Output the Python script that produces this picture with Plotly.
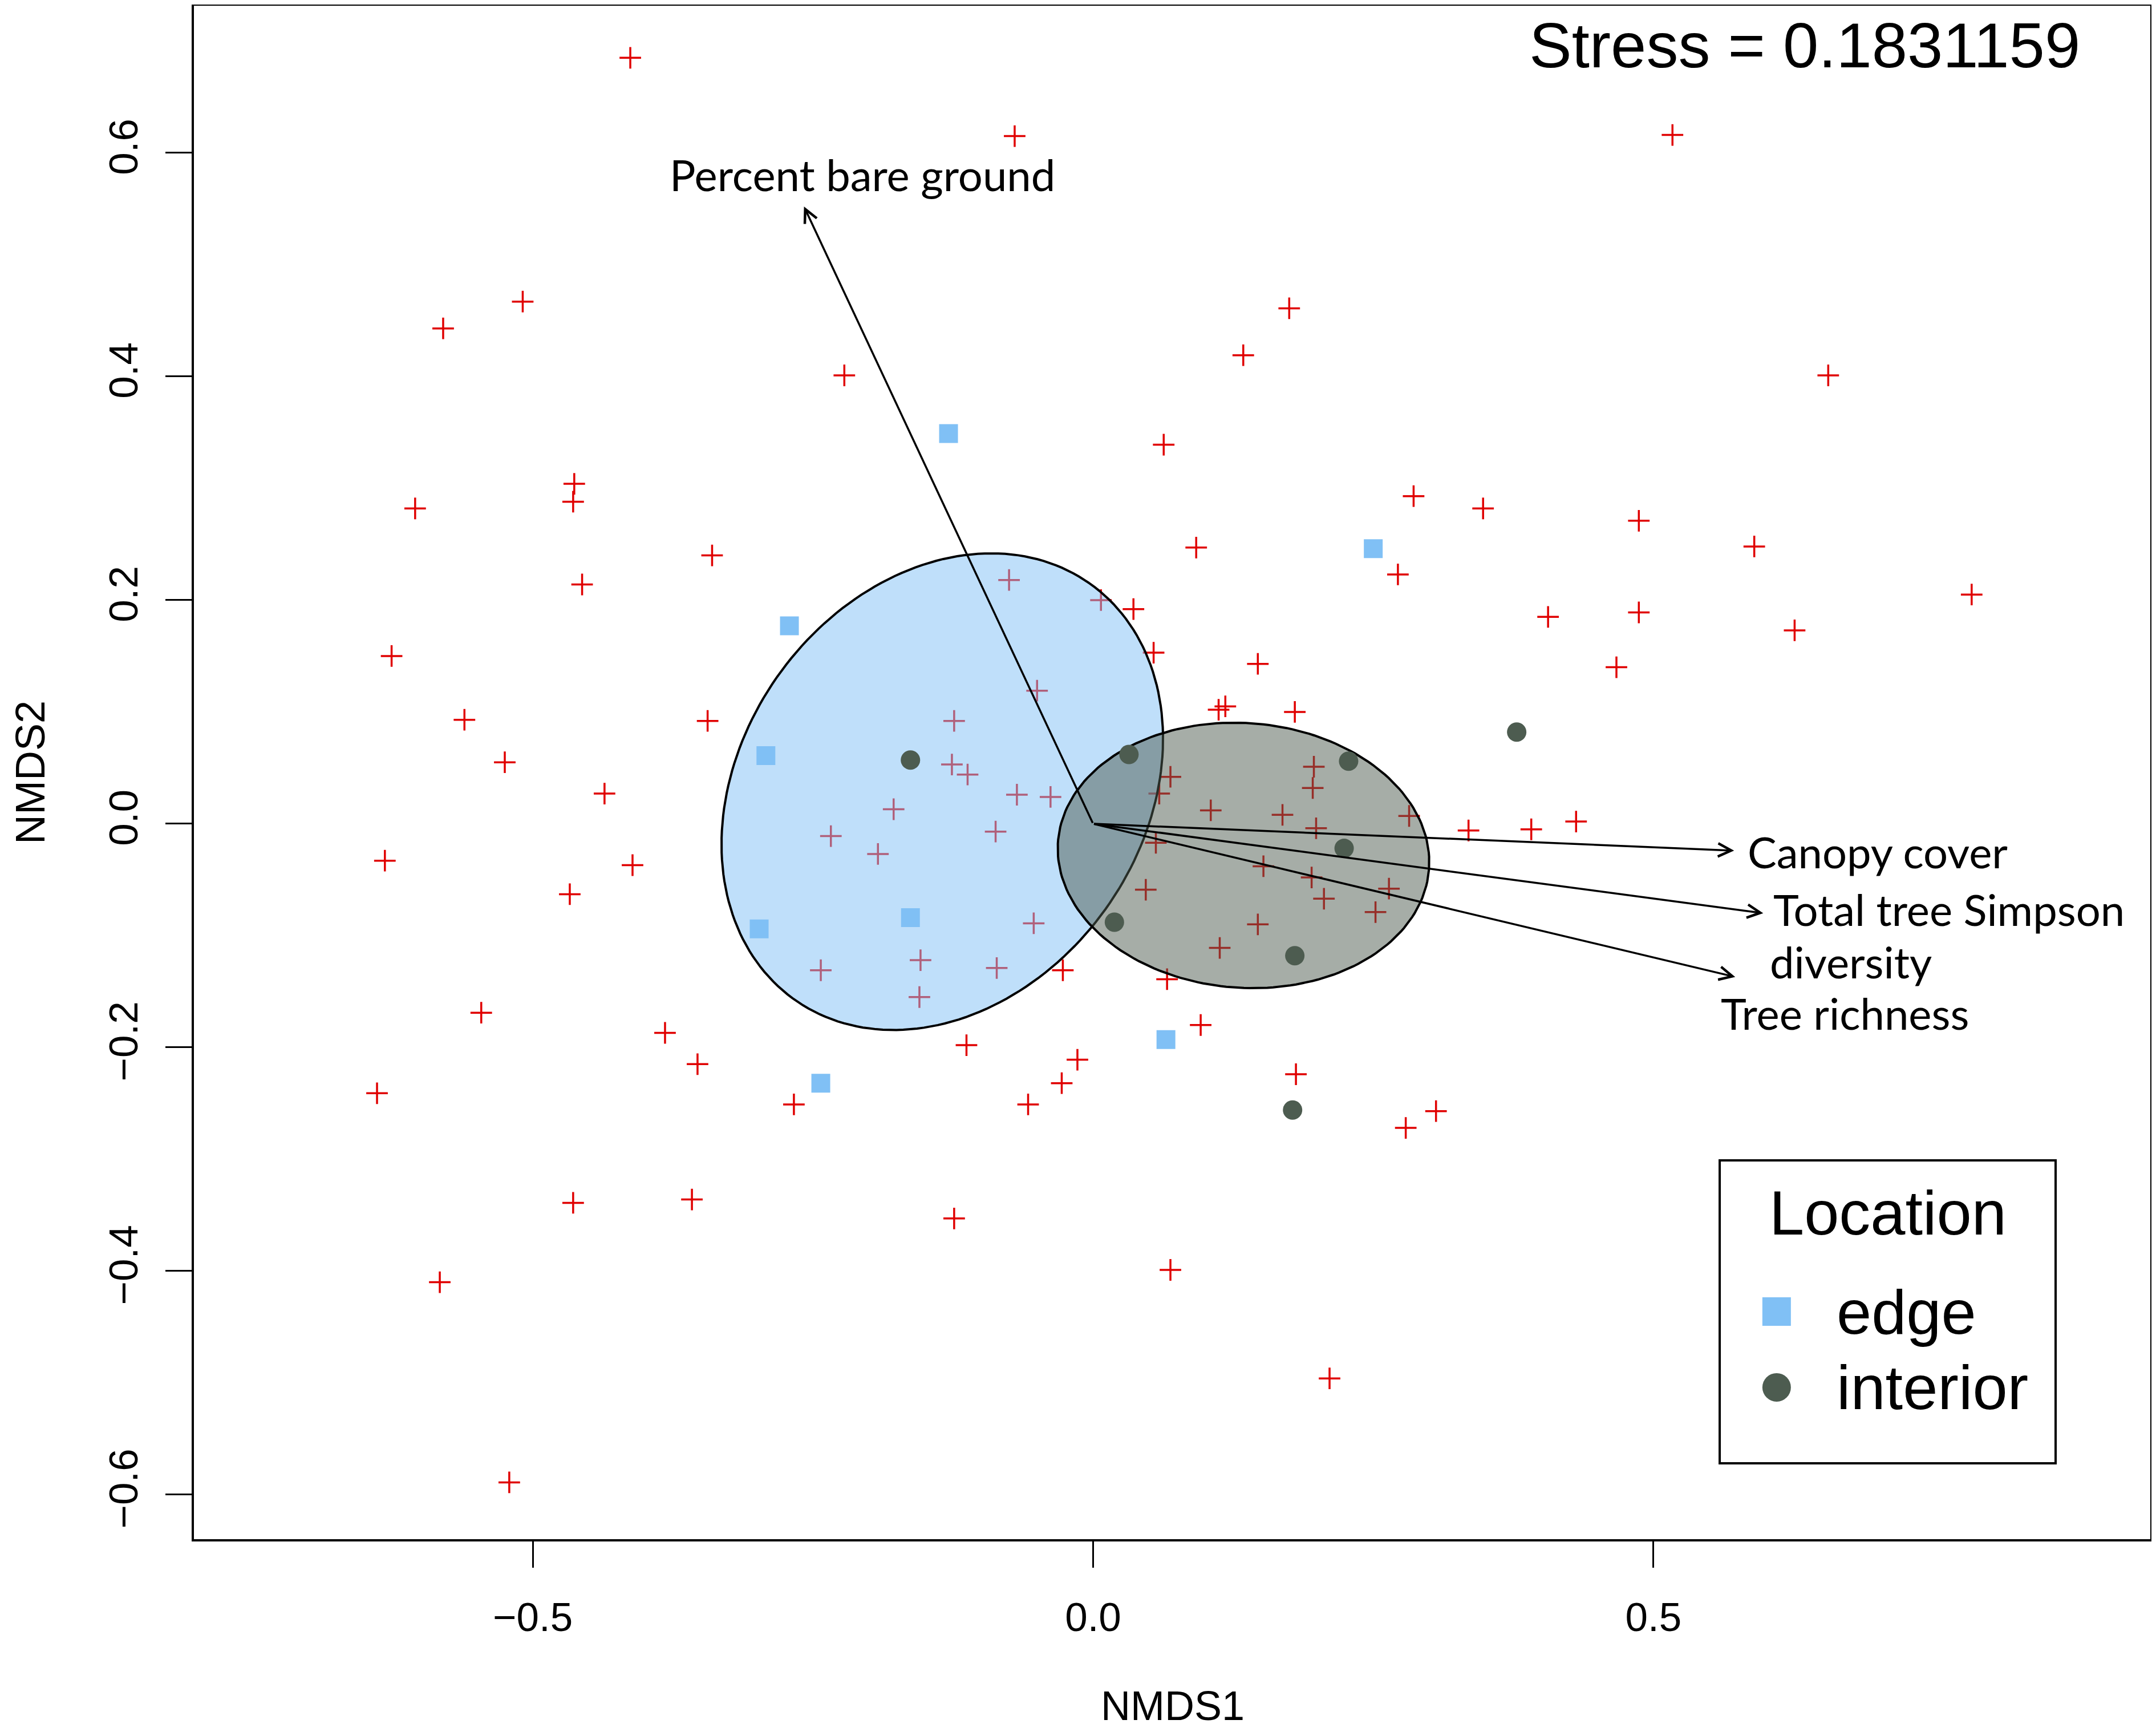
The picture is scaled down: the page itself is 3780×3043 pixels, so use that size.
import numpy as np
import plotly.graph_objects as go

# species scores (red crosses)
species_x = [-0.413, -0.070, 0.517, -0.509, -0.580, 0.175, -0.222, 0.134, 0.656, -0.463,
             -0.464, -0.605, 0.063, 0.286, 0.348, 0.487, -0.340, -0.456, 0.092, 0.590,
             0.272, -0.075, 0.007, 0.036, 0.487, 0.406, 0.784, 0.626, -0.626, 0.054,
             0.147, 0.467, -0.050, -0.561, -0.344, -0.124, 0.112, 0.118, 0.180, -0.525,
             -0.126, -0.112, 0.197, -0.436, -0.068, -0.038, 0.059, 0.069, 0.196, -0.178,
             0.105, 0.169, 0.282, 0.199, 0.335, 0.391, 0.431, -0.234, -0.087, 0.056,
             -0.192, -0.632, -0.411, 0.152, 0.195, 0.047, 0.206, 0.264, 0.252, -0.467,
             -0.053, 0.147, 0.113, -0.154, -0.243, -0.086, -0.027, -0.155, 0.066, -0.546,
             -0.382, -0.113, 0.096, -0.353, -0.014, 0.181, -0.639, -0.028, -0.267, -0.058,
             0.306, 0.279, -0.464, -0.358, -0.124, 0.069, -0.583, 0.211, -0.521]
species_y = [0.685, 0.615, 0.616, 0.467, 0.443, 0.461, 0.401, 0.419, 0.401, 0.304,
             0.288, 0.282, 0.339, 0.293, 0.282, 0.271, 0.240, 0.214, 0.247, 0.248,
             0.223, 0.218, 0.200, 0.192, 0.189, 0.185, 0.205, 0.173, 0.150, 0.153,
             0.143, 0.140, 0.119, 0.093, 0.092, 0.092, 0.102, 0.105, 0.100, 0.055,
             0.053, 0.044, 0.051, 0.027, 0.026, 0.024, 0.027, 0.042, 0.032, 0.013,
             0.012, 0.008, 0.007, -0.004, -0.006, -0.005, 0.002, -0.011, -0.007, -0.017,
             -0.027, -0.033, -0.037, -0.038, -0.048, -0.059, -0.067, -0.058, -0.079, -0.063,
             -0.089, -0.090, -0.111, -0.122, -0.131, -0.129, -0.131, -0.155, -0.139, -0.169,
             -0.187, -0.198, -0.180, -0.215, -0.211, -0.224, -0.241, -0.232, -0.251, -0.251,
             -0.257, -0.272, -0.339, -0.336, -0.353, -0.399, -0.410, -0.496, -0.589]

# site scores by location
edge_x = [-0.129, 0.250, -0.271, -0.292, -0.163, -0.298, 0.065, -0.243]
edge_y = [0.349, 0.246, 0.177, 0.061, -0.084, -0.094, -0.193, -0.232]
interior_x = [-0.163, 0.032, 0.228, 0.378, 0.224, 0.019, 0.180, 0.178]
interior_y = [0.057, 0.062, 0.056, 0.082, -0.022, -0.088, -0.118, -0.256]

# group ellipses: centre x, centre y, semi-axis a, semi-axis b, angle (deg)
edge_ellipse = [-0.1346, 0.0287, 0.228, 0.1796, 54.8]
interior_ellipse = [0.1342, -0.0283, 0.166, 0.1184, -4.25]

# environmental fit vectors
vector_names = ["Percent bare ground", "Canopy cover", "Total tree Simpson", "Tree richness"]
vector_x = [-0.258, 0.572, 0.598, 0.573]
vector_y = [0.552, -0.024, -0.080, -0.137]

stress = 0.1831159

EDGE_COL = "#80C0F5"
INT_COL = "#4D5C50"


def ellipse_xy(params, n=200):
    cx, cy, a, b, ang = params
    t = np.linspace(0, 2 * np.pi, n)
    th = np.radians(ang)
    x = cx + a * np.cos(t) * np.cos(th) - b * np.sin(t) * np.sin(th)
    y = cy + a * np.cos(t) * np.sin(th) + b * np.sin(t) * np.cos(th)
    return x, y


fig = go.Figure()

fig.add_trace(go.Scatter(
    x=species_x, y=species_y, mode="markers",
    marker=dict(symbol="cross-thin", size=27, line=dict(color="#E00000", width=3.5)),
    showlegend=False
))

for params, col in [(edge_ellipse, "rgba(128,192,245,0.5)"), (interior_ellipse, "rgba(77,92,80,0.5)")]:
    ex, ey = ellipse_xy(params)
    fig.add_trace(go.Scatter(
        x=ex, y=ey, mode="lines", fill="toself", fillcolor=col,
        line=dict(color="black", width=4), showlegend=False, hoverinfo="skip"
    ))

fig.add_trace(go.Scatter(
    x=edge_x, y=edge_y, mode="markers", name="edge",
    marker=dict(symbol="square", size=33, color=EDGE_COL), showlegend=False
))
fig.add_trace(go.Scatter(
    x=interior_x, y=interior_y, mode="markers", name="interior",
    marker=dict(symbol="circle", size=34, color=INT_COL), showlegend=False
))

# arrows from the origin
for vx, vy in zip(vector_x, vector_y):
    fig.add_annotation(
        x=vx, y=vy, ax=0, ay=0, xref="x", yref="y", axref="x", ayref="y",
        text="", showarrow=True, arrowhead=5, arrowsize=1.3, arrowwidth=3.5,
        arrowcolor="black"
    )

# vector labels
lab_font = dict(family="Lato, Open Sans, sans-serif", size=76, color="black")
label_pos = [(-0.379, 0.581), (0.583, -0.025), (0.606, -0.0765), (0.559, -0.169)]
for name, (lx, ly) in zip(vector_names, label_pos):
    fig.add_annotation(x=lx, y=ly, xref="x", yref="y", text=name, showarrow=False,
                       xanchor="left", yanchor="middle", font=lab_font)
fig.add_annotation(x=0.603, y=-0.123, xref="x", yref="y", text="diversity", showarrow=False,
                   xanchor="left", yanchor="middle", font=lab_font)

# stress
fig.add_annotation(x=0.9647, y=0.974, xref="paper", yref="paper",
                   text="Stress = %s" % stress, showarrow=False,
                   xanchor="right", yanchor="middle",
                   font=dict(family="Liberation Sans, Arial", size=112, color="black"))

# axis titles
ax_font = dict(family="Liberation Sans, Arial", size=72, color="black")
fig.add_annotation(x=0.5003, y=-0.1085, xref="paper", yref="paper", text="NMDS1",
                   showarrow=False, xanchor="center", yanchor="middle", font=ax_font)
fig.add_annotation(x=-0.0837, y=0.5, xref="paper", yref="paper", text="NMDS2",
                   showarrow=False, textangle=-90, xanchor="center", yanchor="middle", font=ax_font)

# legend box drawn by hand
leg_font = dict(family="Liberation Sans, Arial", size=110, color="black")
fig.add_shape(type="rect", xref="paper", yref="paper", x0=0.7799, x1=0.9516, y0=0.0495, y1=0.2470,
              line=dict(color="black", width=4), fillcolor="white", layer="above")
fig.add_annotation(x=0.8659, y=0.2128, xref="paper", yref="paper", text="Location",
                   showarrow=False, xanchor="center", yanchor="middle", font=leg_font)
sq_w, sq_h = 50 / 3430, 50 / 2688
fig.add_shape(type="rect", xref="paper", yref="paper",
              x0=0.8090 - sq_w / 2, x1=0.8090 + sq_w / 2, y0=0.1484 - sq_h / 2, y1=0.1484 + sq_h / 2,
              fillcolor=EDGE_COL, line=dict(width=0), layer="above")
fig.add_shape(type="circle", xref="paper", yref="paper",
              x0=0.8090 - sq_w / 2, x1=0.8090 + sq_w / 2, y0=0.0990 - sq_h / 2, y1=0.0990 + sq_h / 2,
              fillcolor=INT_COL, line=dict(width=0), layer="above")
fig.add_annotation(x=0.8391, y=0.1484, xref="paper", yref="paper", text="edge",
                   showarrow=False, xanchor="left", yanchor="middle", font=leg_font)
fig.add_annotation(x=0.8391, y=0.0990, xref="paper", yref="paper", text="interior",
                   showarrow=False, xanchor="left", yanchor="middle", font=leg_font)

tick_font = dict(family="Liberation Sans, Arial", size=71, color="black")
fig.update_xaxes(
    range=[-0.8024, 0.9434], tick0=0, dtick=0.5, tickformat=".1f",
    showgrid=False, zeroline=False, showline=True, linecolor="black", linewidth=4, mirror=True,
    ticks="outside", ticklen=46, tickwidth=3, tickcolor="black", tickfont=tick_font,
    ticklabelstandoff=26, automargin=False
)
fig.update_yaxes(
    range=[-0.6398, 0.7316], tick0=0, dtick=0.2, tickformat=".1f", tickangle=-90,
    showgrid=False, zeroline=False, showline=True, linecolor="black", linewidth=4, mirror=True,
    ticks="outside", ticklen=46, tickwidth=3, tickcolor="black", tickfont=tick_font,
    ticklabelstandoff=21, automargin=False
)

# page body keeps an 8px margin, so the figure is a bit smaller than the window
fig.update_layout(
    width=3764, height=3027,
    margin=dict(l=332, r=2, t=2, b=337),
    paper_bgcolor="white", plot_bgcolor="white",
    template="none", showlegend=False
)

fig.write_html("out.html")
